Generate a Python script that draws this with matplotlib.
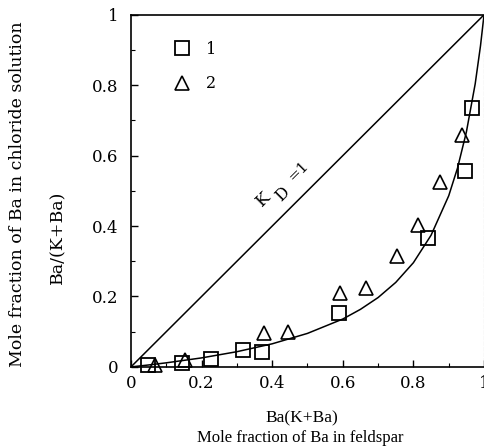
import numpy as np
import matplotlib
matplotlib.use('Agg')
from matplotlib import pyplot as plt
from matplotlib.ticker import MultipleLocator

plt.rcParams['font.family'] = ['DejaVu Serif']
plt.rcParams['mathtext.fontset'] = 'dejavuserif'

# series 1 (squares)
x1 = [0.049, 0.144, 0.226, 0.318, 0.370, 0.589, 0.842, 0.946, 0.967]
y1 = [0.006, 0.011, 0.023, 0.048, 0.042, 0.154, 0.366, 0.555, 0.735]
# series 2 (triangles)
x2 = [0.068, 0.153, 0.377, 0.446, 0.592, 0.666, 0.753, 0.812, 0.875, 0.937]
y2 = [0.006, 0.020, 0.096, 0.100, 0.209, 0.224, 0.315, 0.403, 0.526, 0.659]
# fitted curve
xc = [0, 0.05, 0.1, 0.2, 0.3, 0.4, 0.5, 0.6, 0.65, 0.7, 0.75, 0.8, 0.85, 0.9, 0.925, 0.95, 0.975, 0.99, 1.0]
yc = [0, 0.0055, 0.0116, 0.0256, 0.0432, 0.0656, 0.0952, 0.136, 0.1635, 0.197, 0.24, 0.296, 0.374, 0.486, 0.565, 0.667, 0.804, 0.912, 1.0]
# KD = 1 line
xd = [0, 1]
yd = [0, 1]
ticks = [0, 0.2, 0.4, 0.6, 0.8, 1]
tick_labels = ['0', '0.2', '0.4', '0.6', '0.8', '1']

fig = plt.figure(figsize=(4.85, 4.48), dpi=100)
ax = fig.add_axes([0.270, 0.181, 0.728, 0.786])

ax.plot(xd, yd, color='black', lw=1.1)
ax.plot(xc, yc, color='black', lw=1.1)
ax.plot(x1, y1, 's', ms=10.5, mfc='none', mec='black', mew=1.3, label='1', clip_on=False)
ax.plot(x2, y2, '^', ms=10, mfc='none', mec='black', mew=1.2, label='2', clip_on=False)

# KD=1 label, D drawn lower like a big subscript
ax.text(0.375, 0.475, 'K', rotation=45, fontsize=12.5, ha='center', va='center')
ax.text(0.43, 0.49, 'D', rotation=45, fontsize=11.5, ha='center', va='center')
ax.text(0.475, 0.555, '=1', rotation=45, fontsize=11, ha='center', va='center')

ax.set_xlim(0, 1)
ax.set_ylim(0, 1)
ax.xaxis.set_minor_locator(MultipleLocator(0.1))
ax.yaxis.set_minor_locator(MultipleLocator(0.1))
ax.set_xticks(ticks)
ax.set_yticks(ticks)
ax.set_xticklabels(tick_labels)
ax.set_yticklabels(tick_labels)
ax.tick_params(which='major', direction='in', length=5, width=1, labelsize=12)
ax.tick_params(axis='x', pad=6)
ax.tick_params(axis='y', pad=9)
ax.tick_params(which='minor', direction='in', length=3, width=0.8)
for s in ['left', 'bottom', 'top']:
    ax.spines[s].set_linewidth(1.2)
ax.spines['right'].set_color('#999999')
ax.spines['right'].set_linestyle((0, (3, 2)))
ax.spines['right'].set_linewidth(0.8)

leg = ax.legend(loc='upper left', frameon=False, fontsize=11.5, handletextpad=0.5,
                labelspacing=1.1, borderaxespad=0.0, bbox_to_anchor=(0.08, 0.945))

fig.text(0.037, 0.567, 'Mole fraction of Ba in chloride solution', rotation=90,
         fontsize=12.5, ha='center', va='center')
fig.text(0.12, 0.471, 'Ba/(K+Ba)', rotation=90, fontsize=12.5, ha='center', va='center')
fig.text(0.622, 0.067, 'Ba(K+Ba)', fontsize=12.5, ha='center', va='center',
         family='Liberation Serif')
fig.text(0.62, 0.022, 'Mole fraction of Ba in feldspar', fontsize=12, ha='center', va='center',
         family='Liberation Serif')

fig.savefig('out.png', dpi=100)
